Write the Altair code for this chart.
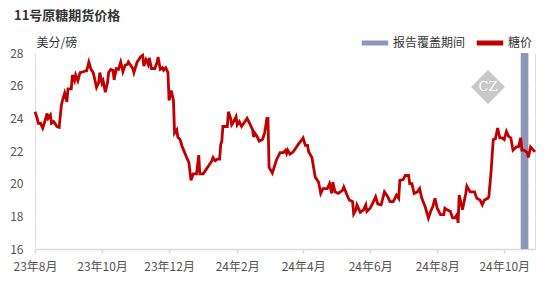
import altair as alt
import pandas as pd

dates = [
    "2023-08-01","2023-08-03","2023-08-04","2023-08-06","2023-08-08","2023-08-09","2023-08-12","2023-08-13",
    "2023-08-15","2023-08-16","2023-08-18","2023-08-21","2023-08-23","2023-08-25","2023-08-26","2023-08-28",
    "2023-08-30","2023-08-31",
    "2023-09-03","2023-09-04","2023-09-06","2023-09-07","2023-09-09","2023-09-11","2023-09-14","2023-09-16",
    "2023-09-17","2023-09-19","2023-09-21","2023-09-23","2023-09-26","2023-09-28","2023-09-29",
    "2023-10-01","2023-10-02","2023-10-04","2023-10-06","2023-10-07","2023-10-09","2023-10-11","2023-10-12",
    "2023-10-14","2023-10-16","2023-10-18","2023-10-20","2023-10-22","2023-10-24","2023-10-25","2023-10-27",
    "2023-10-29","2023-10-30",
    "2023-11-01","2023-11-02","2023-11-05","2023-11-07","2023-11-08","2023-11-10","2023-11-12","2023-11-13",
    "2023-11-15","2023-11-16","2023-11-18","2023-11-20","2023-11-21","2023-11-23","2023-11-25","2023-11-26",
    "2023-11-28","2023-11-30",
    "2023-12-01","2023-12-03","2023-12-05","2023-12-06","2023-12-08","2023-12-09","2023-12-11","2023-12-13",
    "2023-12-14","2023-12-17","2023-12-19","2023-12-21","2023-12-23","2023-12-26","2023-12-28","2023-12-29",
    "2024-01-01","2024-01-03","2024-01-06","2024-01-09","2024-01-10","2024-01-12","2024-01-14","2024-01-16",
    "2024-01-17","2024-01-18","2024-01-19","2024-01-23","2024-01-24","2024-01-26","2024-01-27","2024-01-28",
    "2024-01-31",
    "2024-02-01","2024-02-03","2024-02-05","2024-02-07","2024-02-10","2024-02-13","2024-02-15","2024-02-16",
    "2024-02-17","2024-02-19","2024-02-21","2024-02-24","2024-02-26","2024-02-28","2024-02-29",
    "2024-03-01","2024-03-04","2024-03-07","2024-03-08","2024-03-11","2024-03-14","2024-03-16","2024-03-17",
    "2024-03-18","2024-03-20","2024-03-23","2024-03-27","2024-03-28","2024-03-31",
    "2024-04-01","2024-04-03","2024-04-05","2024-04-06","2024-04-09","2024-04-12","2024-04-15","2024-04-17",
    "2024-04-19","2024-04-23","2024-04-25","2024-04-27","2024-04-28","2024-04-30",
    "2024-05-03","2024-05-07","2024-05-08","2024-05-11","2024-05-13","2024-05-16","2024-05-17","2024-05-19",
    "2024-05-20","2024-05-23","2024-05-26","2024-05-28","2024-05-29",
    "2024-06-01","2024-06-04","2024-06-06","2024-06-08","2024-06-11","2024-06-14","2024-06-17","2024-06-19",
    "2024-06-22","2024-06-25","2024-06-27","2024-06-28",
    "2024-07-01","2024-07-03","2024-07-06","2024-07-07","2024-07-09","2024-07-11","2024-07-14","2024-07-16",
    "2024-07-18","2024-07-21","2024-07-24","2024-07-26","2024-07-28","2024-07-30",
    "2024-08-01","2024-08-04","2024-08-07","2024-08-08","2024-08-10","2024-08-13","2024-08-15","2024-08-17",
    "2024-08-19","2024-08-20","2024-08-21","2024-08-24","2024-08-27","2024-08-28","2024-08-31",
    "2024-09-04","2024-09-06","2024-09-09","2024-09-11","2024-09-13","2024-09-16","2024-09-17","2024-09-19",
    "2024-09-21","2024-09-23","2024-09-25","2024-09-27","2024-09-29",
    "2024-10-01","2024-10-03","2024-10-05","2024-10-07","2024-10-09","2024-10-12","2024-10-14","2024-10-16",
    "2024-10-17","2024-10-19","2024-10-22","2024-10-23","2024-10-25","2024-10-27","2024-10-29",
]

prices = [
    24.4, 24.0, 23.7, 23.7, 23.4, 23.6, 24.3, 24.0,
    24.2, 23.7, 23.8, 23.5, 23.45, 24.8, 25.1, 25.55,
    25.0, 25.8,
    25.8, 26.65, 26.3, 26.65, 26.3, 26.8, 26.85, 26.9,
    26.9, 27.45, 27.0, 26.8, 25.9, 26.2, 26.8,
    26.15, 26.3, 25.6, 26.2, 26.8, 27.0, 26.95, 26.35,
    27.05, 27.0, 27.45, 26.85, 27.25, 27.3, 27.45, 27.25,
    27.05, 26.8,
    27.25, 27.45, 27.75, 27.85, 27.2, 27.6, 27.3, 27.7,
    27.05, 27.05, 27.05, 27.4, 27.75, 27.0, 27.1, 26.95,
    27.1, 26.8,
    25.1, 25.7, 25.1, 23.1, 23.3, 22.85, 22.7, 22.25,
    22.1, 21.6, 21.3, 20.2, 20.6, 20.6, 21.75, 20.6,
    20.6, 20.8, 21.1, 21.4, 21.6, 21.4, 21.5, 21.5,
    22.4, 22.6, 23.5, 23.5, 24.4, 24.0, 23.6, 23.7,
    24.1,
    23.6, 23.8, 23.5, 23.7, 24.0, 23.6, 23.3, 22.85,
    23.1, 22.9, 22.6, 22.7, 23.1, 24.0, 24.0,
    21.0, 20.65, 21.3, 21.5, 21.9, 21.9, 22.05, 21.85,
    22.05, 21.8, 21.95, 22.35, 22.45, 22.7,
    22.8, 22.35, 22.35, 21.95, 21.6, 20.4, 20.1, 19.4,
    19.7, 19.7, 20.0, 19.4, 20.1, 19.5,
    19.4, 19.6, 19.8, 19.3, 19.0, 18.9, 18.15, 18.4,
    18.7, 18.25, 18.4, 18.7, 18.3,
    18.5, 18.9, 19.2, 18.75, 18.7, 19.5, 19.2, 18.9,
    18.9, 19.3, 19.1, 20.2,
    20.25, 20.5, 20.5, 20.0, 20.0, 19.4, 19.5, 19.7,
    19.1, 18.6, 17.9, 18.3, 18.6, 19.1,
    18.5, 18.1, 18.1, 18.5, 18.4, 18.3, 17.9, 17.9,
    18.1, 17.6, 19.3, 18.4, 19.4, 19.85, 19.5,
    19.5, 19.1, 19.0, 18.7, 19.0, 19.1, 19.2, 20.7,
    22.7, 22.75, 23.4, 22.8, 22.8,
    22.7, 23.2, 22.9, 22.8, 22.05, 22.25, 22.25, 22.8,
    22.05, 22.05, 21.9, 21.6, 22.25, 22.1, 21.95,
]
assert len(dates) == len(prices)

band_start = ["2024-10-16"]
band_end = ["2024-10-23"]
series_names = ["报告覆盖期间", "糖价"]
series_colors = ["#8e95bb", "#c00000"]
y_ticks = [16, 18, 20, 22, 24, 26, 28]
x_tick_dates = ["2023-08-01", "2023-10-01", "2023-12-01", "2024-02-01",
                "2024-04-01", "2024-06-01", "2024-08-01", "2024-10-01"]

FONT = "Noto Sans CJK SC"

price_df = pd.DataFrame({"date": dates, "price": prices, "series": series_names[1]})
band_df = pd.DataFrame({"start": band_start, "end": band_end, "series": series_names[0]})

def to_dt(s):
    y, m, d = s.split("-")
    return alt.DateTime(year=int(y), month=int(m), date=int(d), utc=True)

x_scale = alt.Scale(type="utc", domain=[to_dt("2023-08-01"), to_dt("2024-10-29")], nice=False)
y_scale = alt.Scale(domain=[16, 28], nice=False, zero=False)
color_scale = alt.Scale(domain=series_names, range=series_colors)

legend = alt.Legend(
    title=None, orient="none", direction="horizontal", legendX=324, legendY=-26,
    symbolType="stroke", symbolSize=700, symbolStrokeWidth=5,
    labelFont=FONT, labelFontSize=12, labelColor="#333", labelOffset=2,
    columnPadding=0, symbolOpacity=1,
)

x_axis = alt.Axis(
    title=None, values=[to_dt(d) for d in x_tick_dates],
    labelExpr="utcFormat(datum.value, '%y年%-m月')",
    labelFont=FONT, labelFontSize=12, labelColor="#555", labelPadding=8,
    labelBaseline="top", labelOverlap=False, labelBound=False, labelFlush=False,
    domainColor="#d9d9d9", domainWidth=1.5, tickColor="#d9d9d9", tickSize=4, tickWidth=1.5,
    grid=False,
)
y_axis = alt.Axis(
    title="美分/磅", titleAngle=0, titleAlign="left", titleBaseline="bottom",
    titleX=1, titleY=-4, titleFont=FONT, titleFontSize=12, titleFontWeight="normal",
    titleColor="#333",
    values=y_ticks, labelFont=FONT, labelFontSize=12, labelColor="#555", labelPadding=12,
    domain=False, ticks=False, grid=True, gridColor="#ffffff", gridWidth=1.5,
)

band = alt.Chart(band_df).mark_rect(opacity=1).encode(
    x=alt.X("start:T", scale=x_scale, axis=x_axis),
    x2="end:T",
    y=alt.value(0),
    y2=alt.value(196),
    color=alt.Color("series:N", scale=color_scale, legend=legend),
)

line = alt.Chart(price_df).mark_line(strokeWidth=2.8).encode(
    x=alt.X("date:T", scale=x_scale, axis=x_axis),
    y=alt.Y("price:Q", scale=y_scale, axis=y_axis),
    color=alt.Color("series:N", scale=color_scale, legend=legend),
)

wm_df = pd.DataFrame({"label": ["CZ"]})
wm_diamond = alt.Chart(wm_df).mark_point(shape="diamond", filled=True, color="#c8c8c8", size=1150, opacity=1).encode(
    x=alt.value(453), y=alt.value(34)
)
wm_text = alt.Chart(wm_df).mark_text(font="DejaVu Serif", fontSize=13, color="#ffffff", align="center", baseline="middle").encode(
    x=alt.value(453), y=alt.value(34), text="label:N"
)

chart = alt.layer(band, line, wm_diamond, wm_text).properties(
    width=500, height=196,
    autosize=alt.AutoSizeParams(type="none"),
    padding={"left": 35, "top": 53, "right": 12, "bottom": 37},
    title=alt.TitleParams(
        "11号原糖期货价格", anchor="start", frame="group", dx=-21,
        font=FONT, fontSize=13, fontWeight="bold", color="#333", offset=4,
    ),
).configure_view(fill="#f0f0f0", stroke=None).configure(background="white")

chart.save("out.html", embed_options={"renderer": "svg", "actions": False})
